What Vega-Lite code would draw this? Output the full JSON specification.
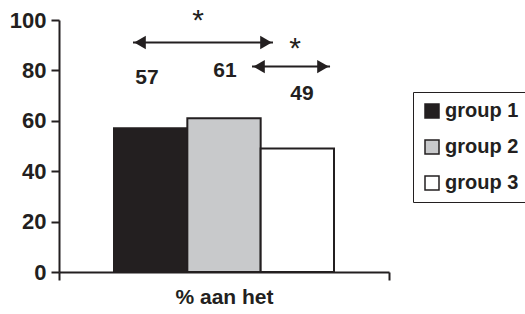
{
  "$schema": "https://vega.github.io/schema/vega-lite/v6.json",
  "width": 330,
  "height": 252,
  "autosize": {"type": "none"},
  "padding": {"left": 59, "top": 20, "right": 136, "bottom": 42},
  "background": "white",
  "config": {
    "view": {"stroke": null},
    "font": "Liberation Sans",
    "axis": {"grid": false, "domainColor": "#231f20", "domainWidth": 2, "tickColor": "#231f20", "tickWidth": 2}
  },
  "layer": [
    {
      "data": {"values": [
        {"group": "group 1", "start": 0.75, "end": 1.75, "value": 57},
        {"group": "group 2", "start": 1.75, "end": 2.75, "value": 61},
        {"group": "group 3", "start": 2.75, "end": 3.75, "value": 49}
      ]},
      "mark": {"type": "bar", "stroke": "#231f20", "strokeWidth": 2},
      "encoding": {
        "x": {"field": "start", "type": "quantitative", "scale": {"domain": [0, 4.5], "nice": false, "zero": false},
              "axis": {"title": "% aan het", "titleFontSize": 21, "titleFontWeight": "bold", "titleColor": "#231f20", "titlePadding": 5, "labels": false, "values": [0, 4.5], "tickSize": 8}},
        "x2": {"field": "end"},
        "y": {"field": "value", "type": "quantitative", "scale": {"domain": [0, 100], "nice": false},
              "axis": {"title": null, "values": [0, 20, 40, 60, 80, 100], "tickSize": 8, "labelFontSize": 22, "labelFontWeight": "bold", "labelColor": "#231f20", "labelPadding": 5}},
        "y2": {"datum": 0},
        "fill": {"field": "group", "type": "nominal",
                 "scale": {"domain": ["group 1", "group 2", "group 3"], "range": ["#231f20", "#c8c9cb", "#ffffff"]},
                 "legend": {"title": null, "orient": "none", "legendX": 354, "legendY": 72, "direction": "vertical",
                            "strokeColor": "#231f20", "padding": 9,
                            "symbolType": "square", "symbolSize": 196, "symbolStrokeColor": "#231f20", "symbolStrokeWidth": 1.5,
                            "labelFontSize": 20, "labelFontWeight": "bold", "labelColor": "#231f20", "labelOffset": 3, "rowPadding": 16}}
      }
    },
    {
      "data": {"values": [
        {"a": 1.009, "b": 2.918, "h": 91.1},
        {"a": 2.632, "b": 3.696, "h": 81.5}
      ]},
      "mark": {"type": "rule", "stroke": "#231f20", "strokeWidth": 2},
      "encoding": {
        "x": {"field": "a", "type": "quantitative"},
        "x2": {"field": "b"},
        "y": {"field": "h", "type": "quantitative"}
      }
    },
    {
      "data": {"values": [
        {"px": 1.105, "h": 91.1},
        {"px": 2.727, "h": 81.5}
      ]},
      "mark": {"type": "point", "shape": "triangle-left", "filled": true, "color": "#231f20", "size": 180, "opacity": 1},
      "encoding": {
        "x": {"field": "px", "type": "quantitative"},
        "y": {"field": "h", "type": "quantitative"}
      }
    },
    {
      "data": {"values": [
        {"px": 2.823, "h": 91.1},
        {"px": 3.600, "h": 81.5}
      ]},
      "mark": {"type": "point", "shape": "triangle-right", "filled": true, "color": "#231f20", "size": 180, "opacity": 1},
      "encoding": {
        "x": {"field": "px", "type": "quantitative"},
        "y": {"field": "h", "type": "quantitative"}
      }
    },
    {
      "data": {"values": [
        {"px": 1.20, "h": 77, "label": "57"},
        {"px": 2.264, "h": 79.8, "label": "61"},
        {"px": 3.314, "h": 70.6, "label": "49"}
      ]},
      "mark": {"type": "text", "fontSize": 21, "fontWeight": "bold", "color": "#231f20", "baseline": "middle", "align": "center"},
      "encoding": {
        "x": {"field": "px", "type": "quantitative"},
        "y": {"field": "h", "type": "quantitative"},
        "text": {"field": "label", "type": "nominal"}
      }
    },
    {
      "data": {"values": [
        {"px": 1.896, "h": 99.5, "label": "*"},
        {"px": 3.218, "h": 88.5, "label": "*"}
      ]},
      "mark": {"type": "text", "fontSize": 30, "color": "#231f20", "baseline": "middle", "align": "center"},
      "encoding": {
        "x": {"field": "px", "type": "quantitative"},
        "y": {"field": "h", "type": "quantitative"},
        "text": {"field": "label", "type": "nominal"}
      }
    }
  ]
}
